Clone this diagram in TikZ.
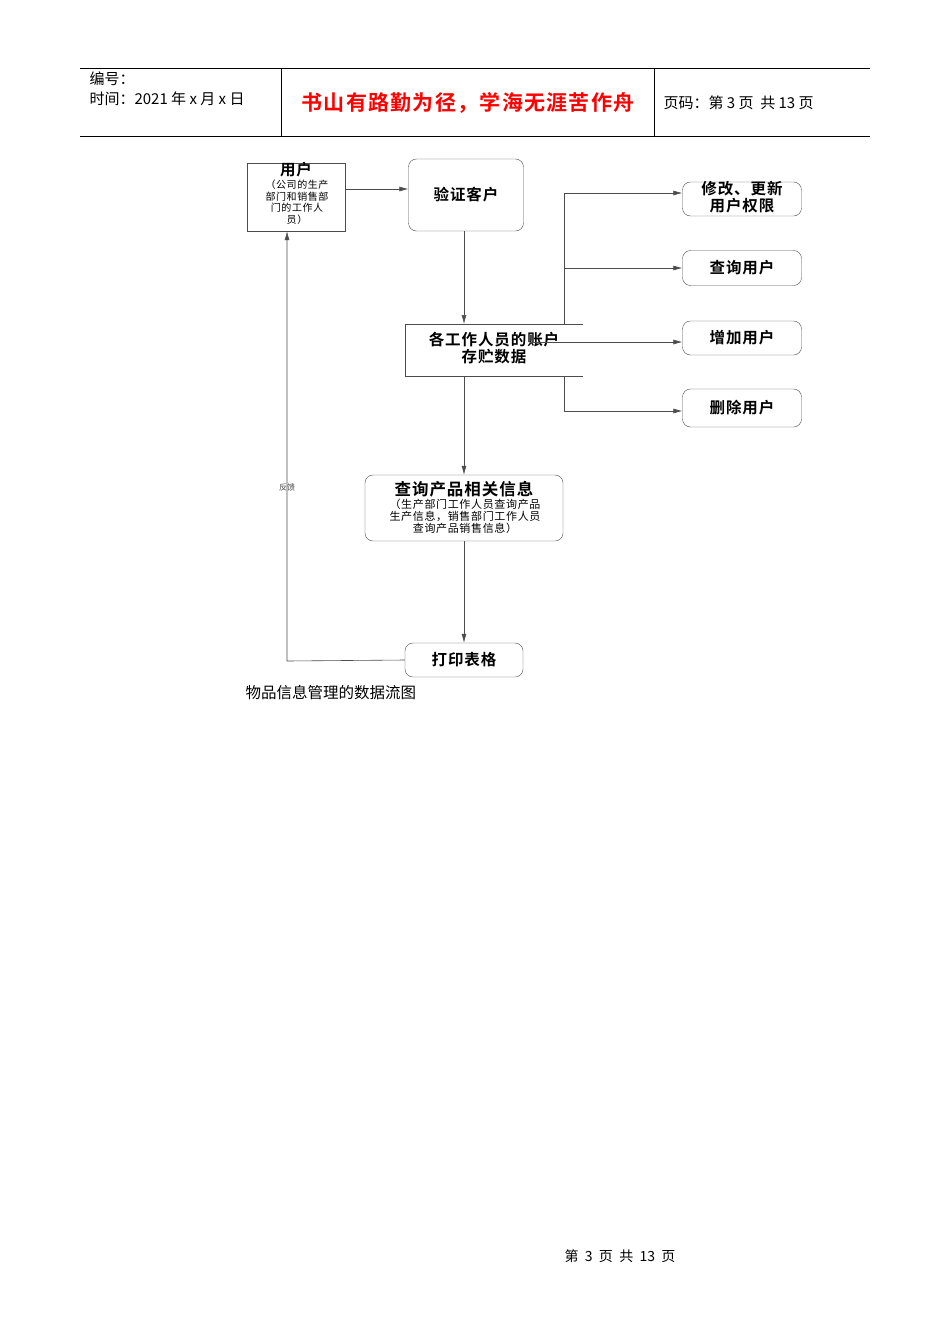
\documentclass[tikz,border=0pt]{standalone}
\usepackage{fontspec}
\setmainfont{Noto Sans CJK SC}
\newfontfamily\cjkb[LetterSpace=6]{Noto Sans CJK SC Bold}
\newfontfamily\cjks[LetterSpace=6]{Noto Sans CJK SC}
\usetikzlibrary{arrows.meta}
\begin{document}
\begin{tikzpicture}[x=1pt,y=-1pt,
  rbox/.style={draw=black!70,rounded corners=8pt,align=center,inner sep=1pt},
  ttl/.style={font=\cjkb\fontsize{15.5}{17}\selectfont},
  sml/.style={font=\cjks\fontsize{10}{11.5}\selectfont},
  arr/.style={draw=black!70,line width=0.6pt,-{Latex[length=9pt,width=5pt]}},
  ln/.style={draw=black!70,line width=0.6pt}]
\useasboundingbox (0,0) rectangle (950,1344);
% header
\draw[line width=0.6pt] (80,68) -- (870,68) (80,136) -- (870,136) (281,68) -- (281,136) (654,68) -- (654,136);
\node[anchor=west,font=\fontsize{15}{17}\selectfont] (h1) at (86,79) {编号：};
\node[anchor=west,font=\fontsize{15}{17}\selectfont] (h2) at (86,99) {时间：2021 年 x 月 x 日};
\node[font=\cjkb\fontsize{21}{23}\selectfont,text=red] (h3) at (468,103) {书山有路勤为径，学海无涯苦作舟};
\node[anchor=west,font=\fontsize{15}{17}\selectfont] (h4) at (660,103) {页码：第 3 页\ \ 共 13 页};
% nodes
\node[draw=black!70,minimum width=98pt,minimum height=68pt,inner sep=0pt] (user) at (296,197) {};
\node[ttl,anchor=north,inner sep=0pt] (ut) at (296,162) {用户};
\node[sml,align=center,anchor=north,inner sep=0pt] (us) at (297,180) {（公司的生产\\部门和销售部\\门的工作人\\员）};
\node[rbox,ttl,minimum width=115pt,minimum height=72pt] (ver) at (466,195) {验证客户};
\node[align=center,font=\cjkb\fontsize{15.5}{17}\selectfont,anchor=center] (store) at (494,348) {各工作人员的账户\\存贮数据};
\draw[ln] (583,324) -- (405,324) -- (405,376) -- (583,376);
\coordinate (st) at (464,324); \coordinate (sb) at (464,376);
\node[rbox,minimum width=119pt,minimum height=34pt] (m1) at (742,199) {};
\node[align=center,font=\cjkb\fontsize{15.5}{17}\selectfont] (m1t) at (742,197) {修改、更新\\用户权限};
\node[rbox,ttl,minimum width=119pt,minimum height=35pt] (m2) at (742,268) {查询用户};
\node[rbox,ttl,minimum width=119pt,minimum height=34pt] (m3) at (742,338) {增加用户};
\node[rbox,ttl,minimum width=119pt,minimum height=38pt] (m4) at (742,408) {删除用户};
\node[rbox,minimum width=198pt,minimum height=66pt] (q) at (464,508) {};
\node[font=\cjkb\fontsize{16.5}{18}\selectfont] (qt) at (464,489) {查询产品相关信息};
\node[align=center,font=\cjks\fontsize{11}{12}\selectfont] (qs) at (465,516) {（生产部门工作人员查询产品\\生产信息，销售部门工作人员\\查询产品销售信息）};
\node[rbox,ttl,minimum width=118pt,minimum height=34pt] (p) at (464,660) {打印表格};
% edges
\draw[arr] (user.east |- 0,189) -- (ver.west |- 0,189);
\draw[arr] (ver.south -| 464,0) -- (st);
\draw[arr] (sb) -- (q.north);
\draw[arr] (q.south) -- (p.north);
\draw[ln] (564,324) -- (564,193);
\draw[arr] (564,193) -- (m1.west |- 0,193);
\draw[arr] (564,268) -- (m2.west);
\draw[arr] (530,342) -- (m3.west |- 0,342);
\draw[ln] (564,376) -- (564,411);
\draw[arr] (564,411) -- (m4.west |- 0,411);
\draw[arr] (p.west) -- (287,661) -- (user.south -| 287,0);
\node[font=\fontsize{8}{9}\selectfont,text=black!70] (fb) at (287,487) {反馈};
\node[anchor=west,font=\fontsize{15.5}{17}\selectfont] (cap) at (242,693) {物品信息管理的数据流图};
\node[font=\fontsize{14}{15}\selectfont] (foot) at (620,1256) {第\ \ 3\ \ 页\ \ 共\ \ 13\ \ 页};
\end{tikzpicture}
\end{document}
